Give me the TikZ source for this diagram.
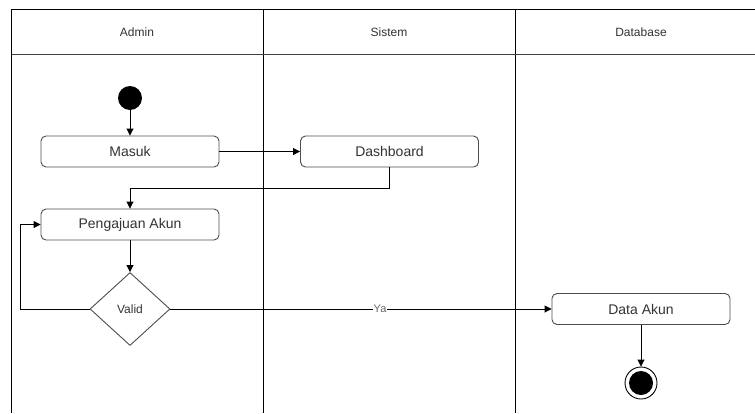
\documentclass[tikz,border=0pt]{standalone}
\usepackage{fontspec}
\setmainfont{Liberation Sans}
\usetikzlibrary{shapes.geometric,arrows.meta}

\definecolor{txt}{HTML}{333333}
\definecolor{edge}{HTML}{4D4D4D}

\tikzset{
  lane/.style={draw=black, line width=0.9pt},
  lanehead/.style={font=\fontsize{12}{14}\selectfont, text=txt},
  action/.style={draw=edge, line width=0.9pt, rounded corners=5pt,
    minimum width=178pt, minimum height=31pt, inner sep=0pt,
    font=\fontsize{14}{16}\selectfont, text=txt},
  choice/.style={diamond, draw=edge, line width=0.9pt, aspect=1.1,
    minimum width=80pt, minimum height=73pt, inner sep=0pt,
    font=\fontsize{12}{14}\selectfont, text=txt},
  startdot/.style={circle, fill=black, minimum size=24pt, inner sep=0pt},
  flow/.style={draw=black, line width=0.9pt, -{Triangle[length=7pt,width=7pt]}},
  plainflow/.style={draw=black, line width=0.9pt}
}

\begin{document}
\begin{tikzpicture}[x=1pt, y=-1pt]
  \useasboundingbox (0,0) rectangle (755,413);
  \fill[white] (0,0) rectangle (755,413);

  % swimlanes
  \draw[lane] (11.5,413) -- (11.5,9) -- (755,9);
  \draw[lane] (263,9) -- (263,413);
  \draw[lane] (515,9) -- (515,413);
  \draw[draw=black!75, line width=1.6pt] (11.5,54.5) -- (755,54.5);
  \node[lanehead] (hAdmin) at (137,32) {Admin};
  \node[lanehead] (hSistem) at (389,32) {Sistem};
  \node[lanehead] (hDb) at (641,32) {Database};

  % activities
  \node[startdot] (start) at (130,98) {};
  \node[action] (masuk) at (130,151.5) {Masuk};
  \node[action] (dash) at (389.5,151.5) {Dashboard};
  \node[action] (aju) at (130,224.5) {Pengajuan Akun};
  \node[choice] (valid) at (130,309) {Valid};
  \node[action] (data) at (641,309) {Data Akun};
  \node[circle, draw=black, line width=0.9pt, fill=white, minimum size=32pt, inner sep=0pt] (stop) at (641,383) {};
  \node[circle, fill=black, minimum size=24pt, inner sep=0pt] (stopin) at (641,383) {};

  % flows
  \draw[flow] (start) -- (masuk);
  \draw[flow] (masuk) -- (dash);
  \draw[flow] (dash.south) |- (130,188) -- (aju.north);
  \draw[flow] (aju) -- (valid);
  \draw[flow] (valid.west) -- (20,309) |- (aju.west);
  \draw[flow] (valid.east) -- node[pos=0.55, fill=white, inner sep=0.5pt, text=black!60,
    font=\fontsize{11}{13}\selectfont] {Ya} (data.west);
  \draw[flow] (data) -- (stop);
\end{tikzpicture}
\end{document}
